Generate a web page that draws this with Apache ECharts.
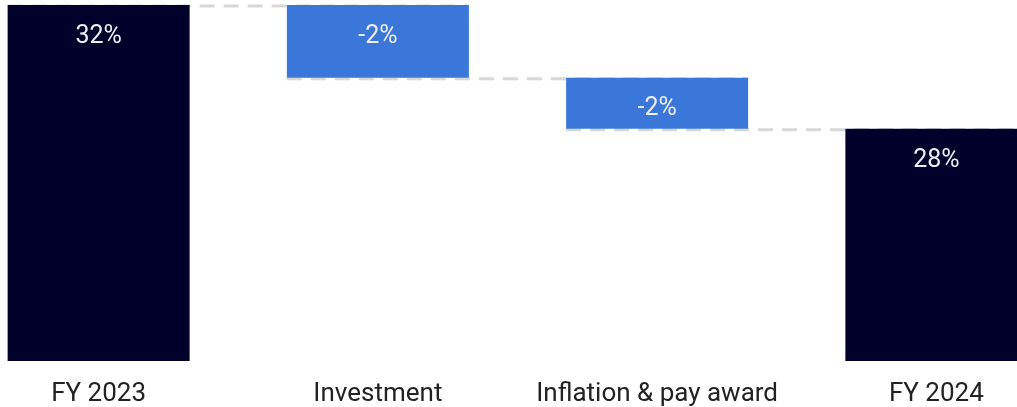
<!DOCTYPE html>
<html>
<head>
<meta charset="utf-8">
<script src="https://cdn.jsdelivr.net/npm/echarts@6/dist/echarts.min.js"></script>
<style>
  html, body { margin: 0; padding: 0; background: #ffffff; overflow: hidden; }
  body { position: relative; width: 1017px; height: 407px; }
  /* plot area is wider than the page; the outer bands run past both edges */
  #chart { position: absolute; left: -41px; top: 0; width: 1117px; height: 407px; }
</style>
</head>
<body>
<div id="chart"></div>
<script>
// Operating margin bridge, FY 2023 to FY 2024 (percent)
const categories = ['FY 2023', 'Investment', 'Inflation & pay award', 'FY 2024'];
const values = [32.0, -2.35, -1.65, 28.0];
const isTotal = [true, false, false, true];

// Running levels for the waterfall: invisible base + visible segment
const baseData = [];
const barData = [];
const levels = [];
let running = 0;
values.forEach((v, i) => {
  if (isTotal[i]) {
    running = v;
    baseData.push(0);
    barData.push(v);
  } else {
    const next = running + v;
    baseData.push(Math.min(running, next));
    barData.push(Math.abs(v));
    running = next;
  }
  levels.push(running);
});

// Connector lines: level after each bar, spanning into the next bar
const connectorData = levels.slice(0, -1).map((lvl, i) => [i, lvl]);

const NAVY = '#00002b';
const BLUE = '#3a77d9';
const BAR_W = 182;

const chart = echarts.init(document.getElementById('chart'), null, { renderer: 'canvas' });
chart.setOption({
  animation: false,
  backgroundColor: '#ffffff',
  grid: { left: 0, right: 0, top: 5, bottom: 46, containLabel: false },
  xAxis: {
    type: 'category',
    data: categories,
    axisLine: { show: false },
    axisTick: { show: false },
    axisLabel: {
      color: '#222222',
      fontFamily: 'Roboto',
      fontSize: 26,
      margin: 20,
      interval: 0
    }
  },
  yAxis: {
    type: 'value',
    min: 20.5,
    max: 32,
    show: false,
    splitLine: { show: false }
  },
  series: [
    {
      type: 'custom',
      z: 1,
      silent: true,
      data: connectorData,
      renderItem: function (params, api) {
        const i = api.value(0);
        const lvl = api.value(1);
        const p = api.coord([i, lvl]);
        const band = api.size([1, 0])[0];
        return {
          type: 'line',
          shape: { x1: p[0] - BAR_W / 2, y1: p[1] + 1, x2: p[0] + band + BAR_W / 2, y2: p[1] + 1 },
          style: { stroke: '#d7d7d7', lineWidth: 3, lineDash: [15, 9] }
        };
      }
    },
    {
      type: 'bar',
      stack: 'wf',
      z: 2,
      barWidth: BAR_W,
      silent: true,
      itemStyle: { color: 'transparent' },
      data: baseData
    },
    {
      type: 'bar',
      stack: 'wf',
      z: 2,
      barWidth: BAR_W,
      data: barData.map((v, i) => ({
        value: v,
        itemStyle: { color: isTotal[i] ? NAVY : BLUE }
      })),
      label: {
        show: true,
        position: 'insideTop',
        distance: 19,
        color: '#eeeef4',
        fontFamily: 'Roboto',
        fontSize: 25,
        formatter: p => Math.round(values[p.dataIndex]) + '%'
      }
    }
  ]
});
</script>
</body>
</html>
